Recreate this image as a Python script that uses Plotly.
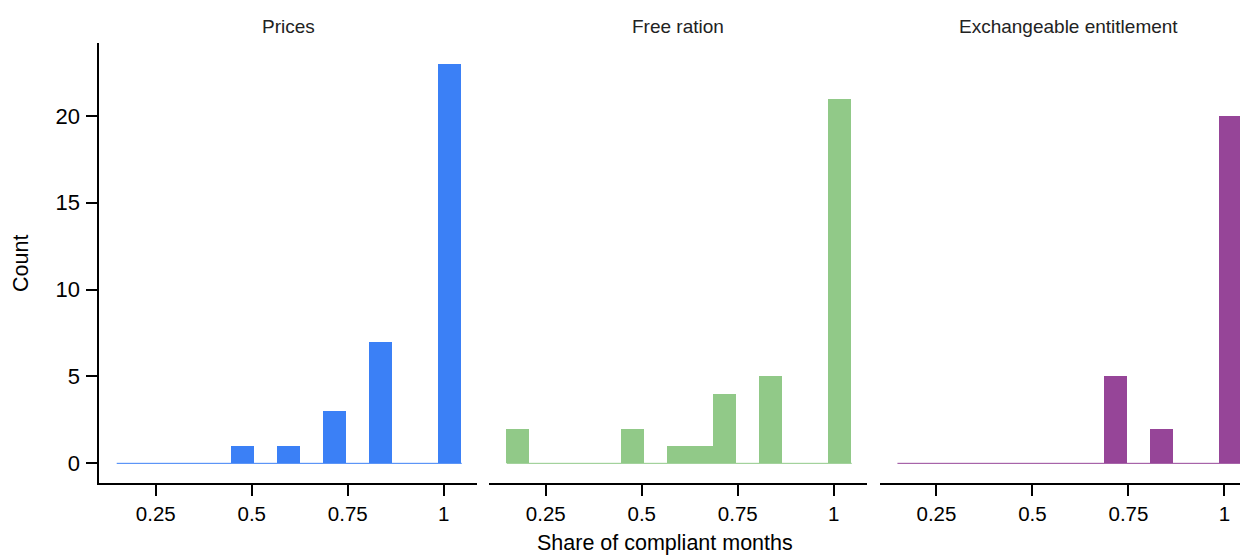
import plotly.graph_objects as go

# ---- data ----
panels = ["Prices", "Free ration", "Exchangeable entitlement"]
bin_start = 0.1484
bin_width = 0.0599
n_bins = 15
counts_prices = [0, 0, 0, 0, 0, 1, 0, 1, 0, 3, 0, 7, 0, 0, 23]
counts_free = [2, 0, 0, 0, 0, 2, 0, 1, 1, 4, 0, 5, 0, 0, 21]
counts_exch = [0, 0, 0, 0, 0, 0, 0, 0, 0, 5, 0, 2, 0, 0, 20]
colors = ["#3B80F6", "#91C988", "#964598"]
x_ticks = [0.25, 0.5, 0.75, 1]
x_ticklabels = ["0.25", "0.5", "0.75", "1"]
y_ticks = [0, 5, 10, 15, 20]

# page has an 8px body margin; lay out in reference pixels minus that offset
OFF = 8
W, H = 1248 - OFF, 557 - OFF
all_counts = [counts_prices, counts_free, counts_exch]

centers = [bin_start + (i + 0.5) * bin_width for i in range(n_bins)]
edge_lo = bin_start
edge_hi = bin_start + n_bins * bin_width


def px(v):
    return v - OFF


fig = go.Figure()

x_dom_ref = [(99.3, 476.7), (489.3, 866.7), (880, 1248)]
px_per_unit = 384.0
y_top, y_bot = px(43), px(483.3)
y_range = [-1.15, 24.2]

for k, (name, cnts, col) in enumerate(zip(panels, all_counts, colors)):
    xa = "x" if k == 0 else f"x{k+1}"
    ya = "y" if k == 0 else f"y{k+1}"
    fig.add_trace(go.Scatter(x=[edge_lo, edge_hi], y=[0, 0], mode="lines",
                             line=dict(color=col, width=1), xaxis=xa, yaxis=ya,
                             showlegend=False, hoverinfo="skip"))
    fig.add_trace(go.Bar(x=centers, y=cnts, width=bin_width, marker=dict(color=col, line=dict(width=0)),
                         xaxis=xa, yaxis=ya, showlegend=False, name=name))

layout = dict(width=W, height=H, margin=dict(l=0, r=0, t=0, b=0),
              plot_bgcolor="white", paper_bgcolor="white",
              font=dict(family="Liberation Sans, Arial, sans-serif", color="black"),
              bargap=0)

ydom = [(H - y_bot) / H, (H - y_top) / H]
for k in range(3):
    a, b = px(x_dom_ref[k][0]), px(x_dom_ref[k][1])
    lo = 0.103
    hi = lo + (b - a) / px_per_unit
    xkey = "xaxis" if k == 0 else f"xaxis{k+1}"
    ykey = "yaxis" if k == 0 else f"yaxis{k+1}"
    layout[xkey] = dict(domain=[a / W, min(b / W, 1.0)], range=[lo, hi], anchor="y" if k == 0 else f"y{k+1}",
                        showline=True, linecolor="black", linewidth=2, showgrid=False, zeroline=False,
                        ticks="outside", ticklen=11, tickwidth=2, tickcolor="black",
                        tickvals=x_ticks, ticktext=x_ticklabels, tickfont=dict(size=20.5, color="black"))
    layout[ykey] = dict(domain=ydom, range=y_range, anchor="x" if k == 0 else f"x{k+1}",
                        showgrid=False, zeroline=False)
    if k == 0:
        layout[ykey].update(showline=True, linecolor="black", linewidth=2, ticks="outside",
                            ticklen=11, tickwidth=2, tickcolor="black", tickvals=y_ticks,
                            ticklabelstandoff=2, tickfont=dict(size=22, color="black"))
    else:
        layout[ykey].update(showline=False, showticklabels=False, ticks="")

annotations = []
for k, name in enumerate(panels):
    cx = px(x_dom_ref[k][0]) + 377.4 / 2
    annotations.append(dict(text=name, x=cx / W, y=(H - px(26)) / H, xref="paper", yref="paper",
                            showarrow=False, xanchor="center", yanchor="middle",
                            font=dict(size=19, color="#222222")))
annotations.append(dict(text="Share of compliant months", x=px(665) / W, y=(H - px(543)) / H, xref="paper",
                        yref="paper", showarrow=False, xanchor="center", yanchor="middle",
                        font=dict(size=21.5, color="black")))
annotations.append(dict(text="Count", x=px(21) / W, y=(H - px(264)) / H, xref="paper", yref="paper",
                        showarrow=False, xanchor="center", yanchor="middle", textangle=-90,
                        font=dict(size=21.5, color="black")))
layout["annotations"] = annotations

fig.update_layout(**layout)
fig.write_html("out.html")
